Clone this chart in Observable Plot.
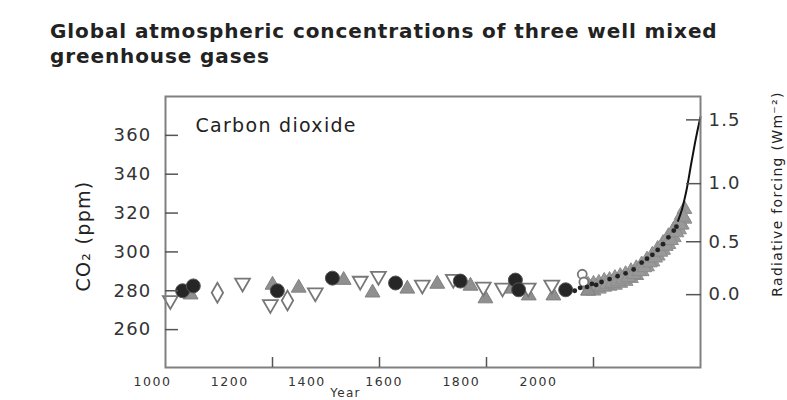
<!DOCTYPE html>
<html>
<head>
<meta charset="utf-8">
<script src="https://cdn.jsdelivr.net/npm/d3@7"></script>
<script src="https://cdn.jsdelivr.net/npm/@observablehq/plot@0.6"></script>
<style>
  body { margin: 0; background: #fff; }
  #wrap { position: relative; width: 787px; height: 400px; overflow: hidden; background: #fff; font-family: "DejaVu Sans", sans-serif; }
  #title { position: absolute; left: 50px; top: 19px; font: bold 20px/25px "DejaVu Sans", sans-serif; color: #222; letter-spacing: 0.9px; white-space: nowrap; }
  #main { position: absolute; left: 0; top: 80px; }
  #xlab { position: absolute; left: 0; top: 372px; }
  g[aria-label="y-axis tick label"] text { letter-spacing: 1.2px; }
  g[aria-label="x-axis tick label"] text { letter-spacing: 1.5px; }
  text.lsp { letter-spacing: 1.3px; }
</style>
</head>
<body>
<div id="wrap">
  <div id="title">Global atmospheric concentrations of three well mixed<br>greenhouse gases</div>
  <div id="main"></div>
  <div id="xlab"></div>
</div>
<script>
// ---- texts and ticks ----
const panelLabel = "Carbon dioxide";
const co2AxisLabel = "CO\u2082 (ppm)";
const forcingAxisLabel = "Radiative forcing (Wm\u207B\u00B2)";
const xAxisLabel = "Year";
const co2Ticks = [260, 280, 300, 320, 340, 360];
const forcingTicks = [0, 0.5, 1.0, 1.5];
const forcingTickLabels = ["0.0", "0.5", "1.0", "1.5"];
const yearTicks = [1200, 1400, 1600, 1800];
const yearTickLabels = [1000, 1200, 1400, 1600, 1800, 2000];

// ---- ice-core series (year, ppm) ----
const darkCircleYears = [1032, 1052, 1209, 1312, 1430, 1551, 1654, 1660, 1748];
const darkCircleCO2   = [280, 282.5, 280, 286.5, 284, 285, 285.5, 280.5, 280.5];

const openDownYears = [1009, 1144, 1196, 1280, 1364, 1398, 1480, 1538, 1594, 1630, 1678, 1722];
const openDownCO2   = [275, 284, 273, 279, 285, 287.5, 283, 286, 282, 281.5, 281.5, 283];

const grayTriYears = [1047, 1200, 1249, 1333, 1387, 1452, 1508, 1570, 1598, 1648, 1679, 1725, 1790];
const grayTriCO2   = [278, 283, 281.5, 285.5, 279, 281, 283.5, 282.5, 276, 281, 277.5, 277.5, 280];

const diamondYears = [1097, 1228];
const diamondCO2   = [279, 275];

const openCircleYears = [1779, 1782];
const openCircleCO2   = [288.5, 284.5];

const darkSmallYears = [1765, 1775, 1788, 1797, 1805, 1815, 1830, 1845, 1860, 1875, 1890, 1900, 1910, 1920, 1930, 1940, 1950, 1955];
const darkSmallCO2   = [280, 281.5, 282, 283.5, 283, 284.5, 286, 287.5, 289, 291, 294.5, 296.5, 298.5, 301, 304, 307.5, 311, 313];

// dense firn/ice band, lower and upper rows, plus a middle row
const bandYears   = [1790, 1800, 1810, 1820, 1830, 1840, 1850, 1860, 1870, 1880, 1890, 1900, 1910, 1920, 1930, 1940, 1950, 1960, 1965, 1970];
const bandLowCO2  = [280, 280, 281, 282, 282.5, 283, 284, 285, 286.5, 288, 290, 292.5, 295, 298, 301, 304, 307.5, 311.5, 314, 317];
const bandHighCO2 = [283, 283.5, 284, 285, 285.5, 286.5, 287.5, 288.5, 290, 291.5, 293.5, 296, 298.5, 301.5, 304.5, 308, 311.5, 316, 319, 322];
const bandMidYears = [1795, 1805, 1815, 1825, 1835, 1845, 1855, 1865, 1875, 1885, 1895, 1905, 1915, 1925, 1935, 1945, 1955, 1962, 1968];
const bandMidCO2   = [281.5, 282, 282.5, 283.5, 284, 285, 286, 287, 288.5, 290, 292, 294.5, 297, 300, 303, 306, 310, 314, 318];

// ---- atmospheric record ----
const atmosYears = [1958, 1962, 1966, 1970, 1974, 1978, 1982, 1986, 1990, 1994, 1998, 2000];
const atmosCO2   = [316, 319, 322.5, 327, 332, 338, 344.5, 350.5, 356.5, 362, 367, 369.5];

// ---- build tables ----
const pts = (ys, vs) => ys.map((year, i) => ({year, co2: vs[i]}));
const darkCircles = pts(darkCircleYears, darkCircleCO2);
const openDown = pts(openDownYears, openDownCO2);
const grayTri = pts(grayTriYears, grayTriCO2);
const diamonds = pts(diamondYears, diamondCO2);
const openCircles = pts(openCircleYears, openCircleCO2);
const darkSmall = pts(darkSmallYears, darkSmallCO2);
const band = pts(bandYears, bandLowCO2).concat(pts(bandYears, bandHighCO2), pts(bandMidYears, bandMidCO2));
const atmos = pts(atmosYears, atmosCO2);

// forcing axis: dF = 5.35 ln(C/C0), C0 = 278 ppm
const C0 = 278;
const forcingPos = forcingTicks.map(f => C0 * Math.exp(f / 5.35));
const forcingMap = new Map(forcingPos.map((p, i) => [p, forcingTickLabels[i]]));

const downTriangle = {
  draw(context, size) {
    const y = -Math.sqrt(size / (Math.sqrt(3) * 3));
    context.moveTo(0, -y * 2);
    context.lineTo(-Math.sqrt(3) * y, y);
    context.lineTo(Math.sqrt(3) * y, y);
    context.closePath();
  }
};

const axisGray = "#808080";
const textCol = "#333";

const main = Plot.plot({
  width: 787, height: 290,
  marginTop: 16, marginBottom: 3, marginLeft: 165, marginRight: 87,
  x: {domain: [1000, 2000]},
  y: {domain: [240.5, 380]},
  style: {background: "transparent", fontFamily: "DejaVu Sans, sans-serif", color: textCol},
  marks: [
    Plot.dot(band, {x: "year", y: "co2", symbol: "triangle", r: 5.5, fill: "#999", stroke: "#8c8c8c", strokeWidth: 1}),
    Plot.dot(grayTri, {x: "year", y: "co2", symbol: "triangle", r: 5.5, fill: "#8f8f8f", stroke: "#808080", strokeWidth: 1}),
    Plot.dot(openDown, {x: "year", y: "co2", symbol: downTriangle, r: 5.5, fill: "#fff", stroke: "#777", strokeWidth: 1.8}),
    Plot.dot(diamonds, {x: "year", y: "co2", symbol: "diamond", r: 6, fill: "#fff", stroke: "#777", strokeWidth: 1.8}),
    Plot.dot(openCircles, {x: "year", y: "co2", r: 4.5, fill: "#fff", stroke: "#777", strokeWidth: 1.8}),
    Plot.dot(darkCircles, {x: "year", y: "co2", r: 7, fill: "#262626", stroke: "#555", strokeWidth: 1}),
    Plot.dot(darkSmall, {x: "year", y: "co2", r: 2.4, fill: "#222"}),
    Plot.line(atmos, {x: "year", y: "co2", stroke: "#111", strokeWidth: 2, curve: "monotone-x"}),
    Plot.frame({stroke: axisGray, strokeWidth: 2}),
    Plot.axisY({anchor: "left", ticks: co2Ticks, tickSize: 13, dx: 13, fill: "none", stroke: "#555", strokeWidth: 1.5, label: null}),
    Plot.axisY({anchor: "left", ticks: co2Ticks, tickSize: 0, tickPadding: 14, fontSize: 18, fill: textCol, label: null}),
    Plot.axisY({anchor: "right", ticks: forcingPos, tickSize: 15, dx: -15, fill: "none", stroke: "#555", strokeWidth: 1.5, label: null}),
    Plot.axisY({anchor: "right", ticks: forcingPos, tickFormat: d => forcingMap.get(d), tickSize: 0, tickPadding: 8, fontSize: 18, fill: textCol, label: null}),
    Plot.axisX({anchor: "bottom", ticks: yearTicks, tickSize: 10, dy: -10, fill: "none", stroke: "#555", strokeWidth: 1.5, label: null}),
    Plot.text([panelLabel], {text: d => d, frameAnchor: "top-left", dx: 30, dy: 29, textAnchor: "start", lineAnchor: "middle", fontSize: 19, fill: "#222"}),
    Plot.text([co2AxisLabel], {text: d => d, frameAnchor: "left", rotate: -90, dx: -82, dy: 4, textAnchor: "middle", lineAnchor: "middle", fontSize: 19, fill: "#222"}),
    Plot.text([forcingAxisLabel], {text: d => d, frameAnchor: "right", rotate: -90, dx: 77, dy: -38, textAnchor: "middle", lineAnchor: "middle", fontSize: 14, fill: "#222"})
  ]
});
main.querySelectorAll('g[aria-label="text"] text').forEach(t => t.classList.add("lsp"));
document.getElementById("main").appendChild(main);

const xlab = Plot.plot({
  width: 787, height: 28,
  marginTop: 2, marginBottom: 26, marginLeft: 152, marginRight: 249,
  x: {domain: [1000, 2000]},
  style: {background: "transparent", fontFamily: "DejaVu Sans, sans-serif", color: textCol},
  marks: [
    Plot.axisX({anchor: "bottom", ticks: yearTickLabels, tickFormat: "d", tickSize: 0, tickPadding: 3, fontSize: 12.5, fill: textCol, label: null}),
    Plot.text([xAxisLabel], {text: d => d, frameAnchor: "bottom", dy: 18.5, textAnchor: "middle", lineAnchor: "middle", fontSize: 12, fill: textCol})
  ]
});
xlab.querySelectorAll('g[aria-label="text"] text').forEach(t => t.classList.add("lsp"));
document.getElementById("xlab").appendChild(xlab);
</script>
</body>
</html>
